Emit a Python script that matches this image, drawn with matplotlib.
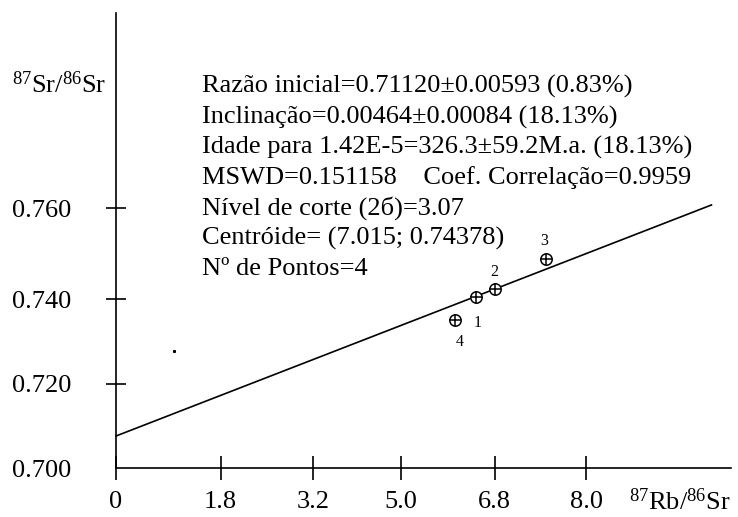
import numpy as np
import matplotlib
matplotlib.use("Agg")
import matplotlib.pyplot as plt

# isochron data
x_ticks = [0, 1.8, 3.2, 5.0, 6.8, 8.0]
x_tick_labels = ["0", "1.8", "3.2", "5.0", "6.8", "8.0"]
y_ticks = [0.700, 0.720, 0.740, 0.760]
y_tick_labels = ["0.700", "0.720", "0.740", "0.760"]

point_ids = ["1", "2", "3", "4"]
rb_sr = [6.448, 6.804, 7.472, 6.046]
sr_sr = [0.74057, 0.74226, 0.74879, 0.73511]

fit_x = [0.0, 9.64]
fit_y = [0.70766, 0.76073]

stray_x = [0.997]
stray_y = [0.72786]

info_lines = [
    "Razão inicial=0.71120±0.00593 (0.83%)",
    "Inclinação=0.00464±0.00084 (18.13%)",
    "Idade para 1.42E-5=326.3±59.2M.a. (18.13%)",
    "MSWD=0.151158    Coef. Correlação=0.9959",
    "Nível de corte (2б)=3.07",
    "Centróide= (7.015; 0.74378)",
    "Nº de Pontos=4",
]

# the printed axes are not evenly spaced: tick spacing on the page (px)
x_slots = [0, 104.7, 196.7, 284.7, 378.7, 470.3]
y_slots = [0, 84.3, 169.0, 260.0]
label_offsets = [(1.5, -26), (-0.5, 17), (-1.5, 18), (4.5, -22)]


def piecewise(vals, slots):
    vals = np.asarray(vals, float)
    slots = np.asarray(slots, float)

    def make(a, b):
        lo_k = (b[1] - b[0]) / (a[1] - a[0])
        hi_k = (b[-1] - b[-2]) / (a[-1] - a[-2])

        def f(v):
            v = np.asarray(v, float)
            out = np.interp(v, a, b)
            out = np.where(v > a[-1], b[-1] + (v - a[-1]) * hi_k, out)
            out = np.where(v < a[0], b[0] + (v - a[0]) * lo_k, out)
            return out
        return f

    return make(vals, slots), make(slots, vals)


plt.rcParams['font.family'] = ['Liberation Serif', 'DejaVu Serif']
plt.rcParams['mathtext.fontset'] = 'custom'
plt.rcParams['mathtext.rm'] = 'Liberation Serif'
plt.rcParams['mathtext.default'] = 'regular'

W, H = 738, 517
fig = plt.figure(figsize=(W / 100, H / 100), dpi=100)
ax = fig.add_axes([116 / W, 1 - 468.3 / H, (731 - 116) / W, (468.3 - 13) / H])

ax.set_xscale('function', functions=piecewise(x_ticks, x_slots))
ax.set_yscale('function', functions=piecewise(y_ticks, y_slots))
ax.set_xlim(0, 9.896)
ax.set_ylim(0.700, 0.80292)

for side in ['top', 'right']:
    ax.spines[side].set_visible(False)
for side in ['left', 'bottom']:
    ax.spines[side].set_linewidth(1.2)

ax.set_xticks(x_ticks)
ax.set_xticklabels(x_tick_labels)
ax.set_yticks(y_ticks)
ax.set_yticklabels(y_tick_labels)
ax.xaxis.set_minor_locator(plt.NullLocator())
ax.yaxis.set_minor_locator(plt.NullLocator())
ax.tick_params(axis='x', direction='inout', length=17.3, width=1.2, pad=8, labelsize=19)
ax.tick_params(axis='y', direction='inout', length=15, width=1.2, pad=24.4, labelsize=19)
ax.yaxis.get_major_ticks()[0].tick1line.set_visible(False)

# regression line and samples
ax.plot(fit_x, fit_y, color='black', lw=1.2, clip_on=False)
ax.plot(rb_sr, sr_sr, ls='none', marker='o', ms=8.2, mfc='white', mec='black', mew=1.1, zorder=3)
ax.plot(rb_sr, sr_sr, ls='none', marker='+', ms=8.2, mec='black', mew=1.1, zorder=4)
ax.plot(stray_x, stray_y, ls='none', marker='s', ms=1.2, color='black')

for pid, x, y, (dx, dy) in zip(point_ids, rb_sr, sr_sr, label_offsets):
    ax.annotate(pid, (x, y), xytext=(dx * 0.72, dy * 0.72), textcoords='offset points',
                ha='center', va='center', fontsize=11.5)

# axis titles
fig.text(12 / W, 1 - 93 / H, "$^{87}$Sr/$^{86}$Sr", fontsize=19, ha='left', va='baseline')
fig.text(731 / W, 1 - 510 / H, "$^{87}$Rb/$^{86}$Sr", fontsize=19, ha='right', va='baseline')

# fit summary
for i, line in enumerate(info_lines):
    fig.text(202 / W, 1 - (93 + i * 30.3) / H, line, fontsize=19, ha='left', va='baseline')

fig.savefig("out.png", dpi=100)
